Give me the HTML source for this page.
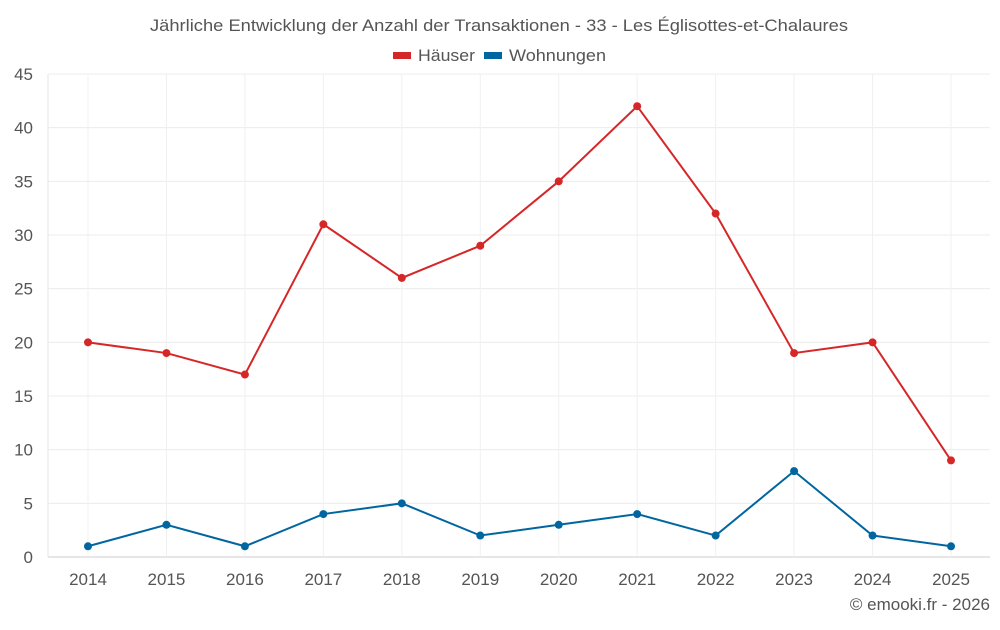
<!DOCTYPE html>
<html><head><meta charset="utf-8"><style>
body{margin:0;background:#fff;font-family:"Liberation Sans",sans-serif;}
svg text{font-family:"Liberation Sans",sans-serif;}
</style></head><body>
<svg id="chart" width="1000" height="625" xmlns="http://www.w3.org/2000/svg">
<text x="150" y="31" textLength="698" lengthAdjust="spacingAndGlyphs" font-size="17" fill="#555">Jährliche Entwicklung der Anzahl der Transaktionen - 33 - Les Églisottes-et-Chalaures</text>
<g>
<g><rect x="393" y="52" width="18" height="7" fill="#d62728"/><text x="418" y="61" font-size="17" fill="#555" textLength="57" lengthAdjust="spacingAndGlyphs">Häuser</text></g>
<g><rect x="484" y="52" width="18" height="7" fill="#0066a0"/><text x="509" y="61" font-size="17" fill="#555" textLength="97" lengthAdjust="spacingAndGlyphs">Wohnungen</text></g>
</g>
<g id="grid"></g><g id="axes"></g><g id="series"></g>
<text x="990" y="610" text-anchor="end" font-size="17" fill="#555">© emooki.fr - 2026</text>
</svg>
<script>
const years=[2014,2015,2016,2017,2018,2019,2020,2021,2022,2023,2024,2025];
const haeuser=[20,19,17,31,26,29,35,42,32,19,20,9];
const wohnungen=[1,3,1,4,5,2,3,4,2,8,2,1];
const yTicks=[0,5,10,15,20,25,30,35,40,45];
const NS="http://www.w3.org/2000/svg";
const L=48,R=990,T=74,B=557,yMax=45;
const x=i=>88+i*(951-88)/(years.length-1);
const y=v=>B-v*(B-T)/yMax;
function mk(tag,a,p){const e=document.createElementNS(NS,tag);for(const k in a)e.setAttribute(k,a[k]);p.appendChild(e);return e;}
const grid=document.getElementById('grid'),axes=document.getElementById('axes'),ser=document.getElementById('series');
yTicks.forEach(t=>{
 const l=mk('line',{x1:L,x2:R,y1:y(t),y2:y(t),stroke:t?'#ececec':'#ccc'},grid);
 
 
 const tx=mk('text',{x:33,y:y(t)+6,'text-anchor':'end','font-size':17,fill:'#555'},axes);tx.textContent=t;
 
 
});
years.forEach((yr,i)=>{
 const l=mk('line',{x1:x(i),x2:x(i),y1:T,y2:B,stroke:'#f0f0f0'},grid);
 
 
 const tx=mk('text',{x:x(i),y:585,'text-anchor':'middle','font-size':17,fill:'#555'},axes);tx.textContent=yr;
 
 
});
mk('line',{x1:L,x2:L,y1:T,y2:B,stroke:'#e6e6e6'},grid);
[[haeuser,'#d62728','haeuser'],[wohnungen,'#0066a0','wohnungen']].forEach(([d,c,n])=>{
 const p=mk('polyline',{points:d.map((v,i)=>x(i)+','+y(v)).join(' '),fill:'none',stroke:c,'stroke-width':2},ser);
 
 
 d.forEach((v,i)=>{
  const ci=mk('circle',{cx:x(i),cy:y(v),r:4,fill:c},ser);
  
  
 });
});
</script>
</body></html>
